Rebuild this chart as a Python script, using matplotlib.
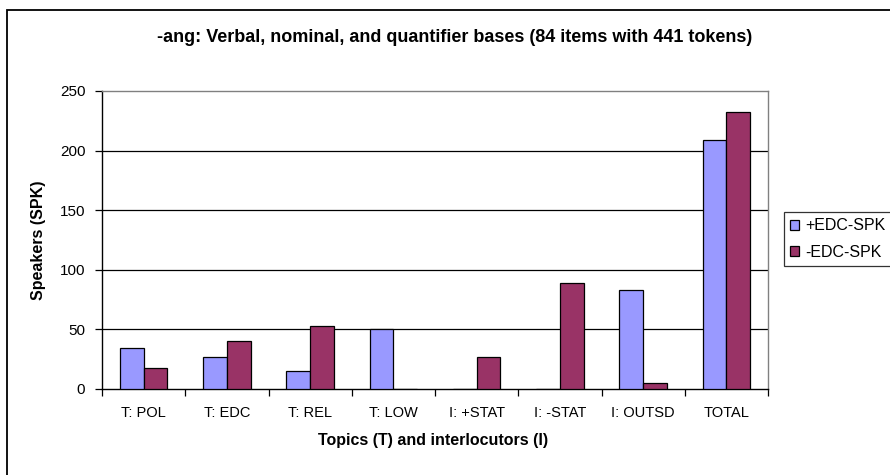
import numpy as np
import matplotlib.pyplot as plt
from matplotlib.patches import Rectangle

plt.rcParams['font.family'] = ['Liberation Sans', 'DejaVu Sans']

categorias = ['T: POL', 'T: EDC', 'T: REL', 'T: LOW', 'I: +STAT', 'I: -STAT', 'I: OUTSD', 'TOTAL']
mas_edc = [34, 27, 15, 50, 0, 0, 83, 209]
menos_edc = [18, 40, 53, 0, 27, 89, 5, 232]
series = ['+EDC-SPK', '-EDC-SPK']

W, H = 890, 475
fig = plt.figure(figsize=(W / 100, H / 100), dpi=100)

# marco exterior del grafico (cortado a la derecha y abajo)
fig.patches.append(Rectangle((7 / W, -0.05), 1.0, 1 - 10 / H + 0.05, transform=fig.transFigure,
                             fill=False, edgecolor='black', linewidth=1.3))

ax = fig.add_axes([102 / W, 1 - 389 / H, (768 - 102) / W, (389 - 91) / H])

x = np.arange(len(categorias))
ancho = 1 / 3.5
ax.bar(x - ancho / 2, mas_edc, ancho, color='#9999FF', edgecolor='black', linewidth=0.9,
       label=series[0], zorder=3)
ax.bar(x + ancho / 2, menos_edc, ancho, color='#993366', edgecolor='black', linewidth=0.9,
       label=series[1], zorder=3)

ax.set_xlim(-0.5, len(categorias) - 0.5)
ax.set_ylim(0, 250)
ax.set_yticks(range(0, 251, 50))
for v in range(50, 250, 50):
    ax.axhline(v, color='black', linewidth=0.9, zorder=1)

ax.set_xticks(x)
ax.set_xticklabels(categorias, fontsize=10.5)
ax.set_xticks(np.arange(-0.5, len(categorias), 1), minor=True)
ax.tick_params(axis='x', which='major', length=0, pad=12)
ax.tick_params(axis='x', which='minor', length=5, width=0.9, direction='out')
ax.tick_params(axis='y', length=5, width=0.9, direction='out', labelsize=11, pad=7)

for lado in ['top', 'right']:
    ax.spines[lado].set_color('#808080')
    ax.spines[lado].set_linewidth(1)
for lado in ['left', 'bottom']:
    ax.spines[lado].set_linewidth(1)

fig.text(455 / W, 1 - 37 / H, '-ang: Verbal, nominal, and quantifier bases (84 items with 441 tokens)',
         ha='center', va='center', fontsize=13, fontweight='bold')
fig.text(38 / W, 1 - 240 / H, 'Speakers (SPK)', rotation=90, ha='center', va='center',
         fontsize=11.5, fontweight='bold')
fig.text(433 / W, 1 - 441 / H, 'Topics (T) and interlocutors (I)', ha='center', va='center',
         fontsize=11.5, fontweight='bold')

ley = fig.legend(loc='upper left', bbox_to_anchor=(784 / W, 1 - 212 / H), fontsize=11.5,
                 frameon=True, fancybox=False, edgecolor='black', handlelength=0.55,
                 handleheight=0.55, handletextpad=0.4, borderpad=0.4, labelspacing=0.7,
                 borderaxespad=0)
ley.get_frame().set_linewidth(0.9)

fig.savefig('out.png', dpi=100)
